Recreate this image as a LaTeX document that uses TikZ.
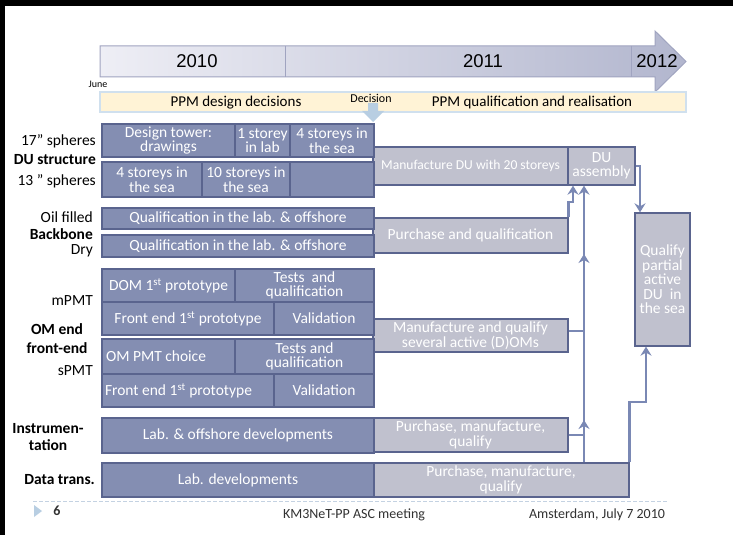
\documentclass[tikz,border=0pt]{standalone}
\usepackage{fontspec}
\setmainfont{Carlito}
\newfontfamily\arialf{Liberation Sans}
\usetikzlibrary{arrows.meta}
\definecolor{lfill}{RGB}{132,142,178}
\definecolor{lborder}{RGB}{90,100,142}
\definecolor{rfill}{RGB}{192,193,206}
\definecolor{conncol}{RGB}{122,136,180}
\definecolor{tlA}{RGB}{238,238,245}
\definecolor{tlB}{RGB}{178,182,206}
\definecolor{tlborder}{RGB}{160,164,192}
\definecolor{bandf}{RGB}{255,243,214}
\definecolor{bandb}{RGB}{208,224,238}
\definecolor{decarrow}{RGB}{184,206,226}
\definecolor{footline}{RGB}{196,210,226}
\definecolor{foottext}{RGB}{50,50,50}
\newcommand\fsz[2]{\fontsize{#1bp}{#2bp}\selectfont}
\newcommand\cell[7]{\node[#1, minimum width={(#5-#3)*1bp}, minimum height={(#6-#4)*1bp}] (#2) at ({(#3+#5)/2},{(#4+#6)/2}) {#7};}
\begin{document}
\begin{tikzpicture}[x=1bp,y=-1bp,
  lbox/.style={draw=lborder, fill=lfill, line width=1.3bp, text=white, inner sep=1bp, align=center, font=\fsz{15.5}{14.5}},
  rbox/.style={draw=lborder, fill=rfill, line width=1.3bp, text=white, inner sep=1bp, align=center, font=\fsz{15.5}{14.5}},
  conn/.style={draw=conncol, line width=2.5bp, -{Stealth[length=9bp,width=11bp,inset=3bp]}},
  lab/.style={anchor=east, inner sep=0, font=\fsz{15.5}{15}},
  clab/.style={inner sep=0, font=\fsz{15.5}{19}\bfseries, align=center},
  year/.style={inner sep=0, font=\arialf\fsz{18.5}{18}},
  foot/.style={inner sep=0, text=foottext, font=\fsz{14}{14}}
]
\useasboundingbox (0,0) rectangle (733,535);
\fill[white] (0,0) rectangle (733,535);
\fill[black] (0,0) rectangle (733,6);
\fill[black] (0,0) rectangle (5,535);

% timeline arrow
\shade[left color=tlA, right color=tlB, draw=tlborder, line width=1bp]
  (100,46) -- (655,46) -- (655,31) -- (686,61.5) -- (655,92) -- (655,77) -- (100,77) -- cycle;
\draw[tlborder, line width=0.8bp] (285,46) -- (285,77);
\draw[tlborder, line width=0.8bp] (631,46) -- (631,77);
\node[year] (y2010) at (197,61.5) {2010};
\node[year] (y2011) at (483,61.5) {2011};
\node[year] (y2012) at (657,61.5) {2012};
\node[inner sep=0, font=\fsz{10}{10}] (june) at (98,84) {June};

% phase band
\node[draw=bandb, fill=bandf, line width=1.5bp, minimum width=586bp, minimum height=20bp, inner sep=0] (band) at (393,102) {};
\node[inner sep=0, font=\fsz{15}{15}] (ppm1) at (236,102.5) {PPM design decisions};
\node[inner sep=0, font=\fsz{15}{15}] (ppm2) at (532,102.5) {PPM qualification and realisation};
\fill[decarrow] (368,103) -- (378,103) -- (378,111) -- (384,111) -- (373,122) -- (362,111) -- (368,111) -- cycle;
\node[inner sep=0, font=\fsz{12}{12}] (decision) at (371,98) {Decision};

% right (grey) boxes
\cell{rbox, font=\fsz{13.6}{14}}{mdu}{373}{147}{568}{185}{Manufacture DU with 20 storeys}
\cell{rbox}{dua}{568}{147}{635}{185}{DU\\assembly}
\cell{rbox}{pq}{373}{218}{568}{253}{Purchase and qualification}
\cell{rbox}{qual}{635}{213}{690}{346}{Qualify\\partial\\active\\DU~ in\\the sea}
\cell{rbox}{mq}{373}{319}{568}{352}{Manufacture and qualify\\several active (D)OMs}
\cell{rbox}{ipm}{373}{418}{568}{452}{Purchase, manufacture,\\qualify}
\cell{rbox}{dpm}{373}{463}{629}{497}{Purchase, manufacture,\\qualify}

% left (blue) boxes
\cell{lbox}{du1}{102}{124}{235}{157}{Design tower:\\drawings}
\cell{lbox}{du2}{235}{124}{290}{157}{1 storey\\in lab}
\cell{lbox}{du3}{290}{124}{374}{157}{4 storeys in\\the sea}
\cell{lbox}{du4}{102}{162}{202}{197}{4 storeys in\\the sea}
\cell{lbox}{du5}{202}{162}{290}{197}{10 storeys in\\the sea}
\cell{lbox}{du6}{290}{162}{374}{197}{}
\cell{lbox}{bb1}{102}{208}{374}{229}{Qualification in the lab. \& offshore}
\cell{lbox}{bb2}{102}{235}{374}{257}{Qualification in the lab. \& offshore}
\cell{lbox}{om1}{102}{269}{235}{302}{DOM 1\textsuperscript{st} prototype}
\cell{lbox}{om2}{235}{269}{374}{302}{Tests~ and\\qualification}
\cell{lbox}{om3}{102}{302}{274}{335}{Front end 1\textsuperscript{st} prototype}
\cell{lbox}{om4}{274}{302}{374}{335}{Validation}
\cell{lbox}{om5}{102}{339}{235}{374}{\makebox[125bp][l]{OM PMT choice}}
\cell{lbox}{om6}{235}{339}{374}{374}{Tests and\\qualification}
\cell{lbox}{om7}{102}{374}{274}{407}{\makebox[166bp][l]{Front end 1\textsuperscript{st} prototype}}
\cell{lbox}{om8}{274}{374}{374}{407}{Validation}
\cell{lbox}{ins}{102}{418}{374}{453}{Lab. \& offshore developments}
\cell{lbox}{dtl}{102}{463}{374}{497}{Lab. developments}

% row labels
\node[lab] (l17) at (96,141) {17” spheres};
\node[lab, font=\fsz{15.5}{15}\bfseries] (ldu) at (96,160) {DU structure};
\node[lab] (l13) at (96,181) {13 ” spheres};
\node[lab] (loil) at (93,217) {Oil filled};
\node[lab, font=\fsz{15.5}{15}\bfseries] (lbb) at (93,234) {Backbone};
\node[lab] (ldry) at (93,251) {Dry};
\node[lab] (lm) at (93,301) {mPMT};
\node[clab] (lom) at (57,339) {OM end\\front-end};
\node[lab] (ls) at (93,371) {sPMT};
\node[clab, font=\fsz{15.5}{17}\bfseries] (lins) at (48,437) {Instrumen-\\tation};
\node[lab, font=\fsz{15.5}{15}\bfseries] (ldt) at (95,480) {Data trans.};

% connectors
\coordinate (k3) at (573,202);
\draw[conn] (pq.north east) |- (k3) -- (k3 |- mdu.south);
\coordinate (j1) at (584,420);
\coordinate (j2) at (584,254);
\draw[conn] (j1 |- dpm.north) -- (j1);
\draw[conn] (ipm.east) -- (ipm.east -| j1) -- (j2);
\draw[conn] ([yshift=4.5bp]mq.east) -| (dua.south -| j1);
\coordinate (k1) at (640,166);
\draw[conn] (dua.east) -- (k1) -- (k1 |- qual.north);
\coordinate (k2) at (646,402);
\draw[conn] (dpm.north east) |- (k2) -- (k2 |- qual.south);

% footer
\draw[footline, line width=1bp, dash pattern=on 4bp off 2bp] (33,501) -- (668,501);
\fill[decarrow] (34,505) -- (42,511) -- (34,517) -- cycle;
\node[foot, font=\fsz{14}{14}\bfseries] (pnum) at (57,511) {6};
\node[foot] (meet) at (354,515) {KM3NeT-PP ASC meeting};
\node[foot] (place) at (597,515) {Amsterdam, July 7 2010};
\end{tikzpicture}
\end{document}
